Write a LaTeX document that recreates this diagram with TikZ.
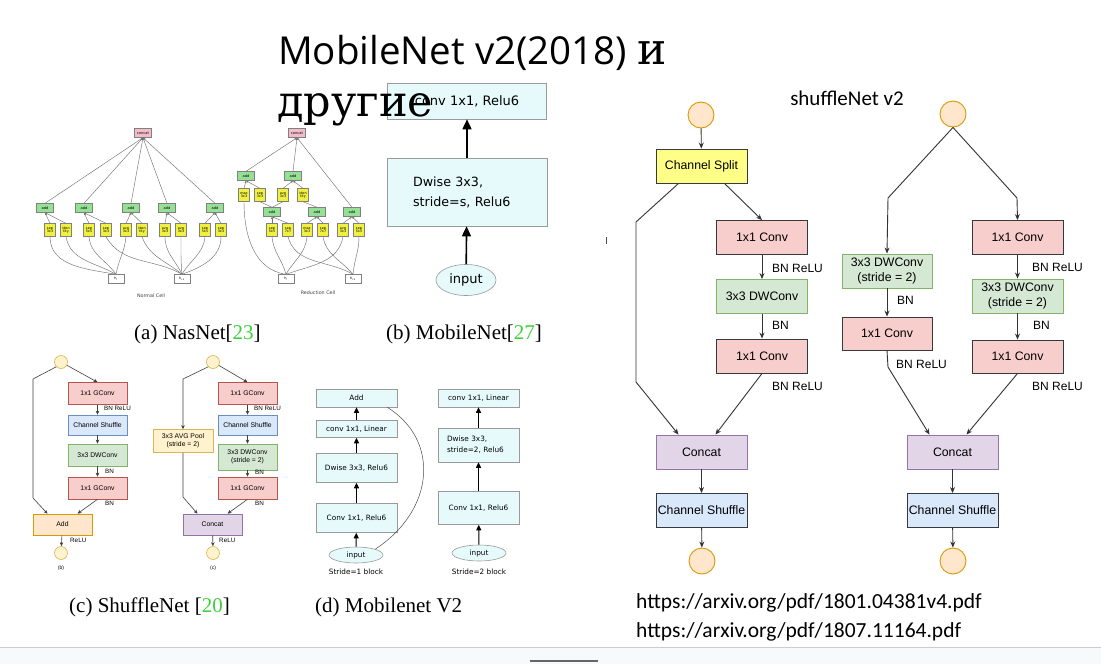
\documentclass[tikz,border=0pt]{standalone}
\usepackage{fontspec}
\setmainfont{Liberation Serif}
\setsansfont{Liberation Sans}
\newfontfamily\djsans{DejaVu Sans}
\newfontfamily\djserif{DejaVu Serif}
\newfontfamily\carl{Carlito}
\newfontfamily\osans{Open Sans}
\usetikzlibrary{arrows.meta,shapes.geometric,calc}
\pgfdeclarelayer{backdrop}
\pgfdeclarelayer{background}
\pgfsetlayers{backdrop,background,main}

\definecolor{nasyel}{HTML}{F0F040}
\definecolor{nasgrn}{HTML}{96E096}
\definecolor{naspnk}{HTML}{F2BCC8}
\definecolor{mbfill}{HTML}{E6FAFC}
\definecolor{mbdraw}{HTML}{9A9A9A}
\definecolor{redF}{HTML}{F8CECC}\definecolor{redD}{HTML}{B85450}
\definecolor{bluF}{HTML}{DAE8FC}\definecolor{bluD}{HTML}{6C8EBF}
\definecolor{grnF}{HTML}{D5E8D4}\definecolor{grnD}{HTML}{82B366}
\definecolor{orgF}{HTML}{FFE6CC}\definecolor{orgD}{HTML}{D79B00}
\definecolor{purF}{HTML}{E1D5E7}\definecolor{purD}{HTML}{9673A6}
\definecolor{ylwF}{HTML}{FFF2CC}\definecolor{ylwD}{HTML}{D6B656}
\definecolor{splF}{HTML}{FFFF88}
\definecolor{darkD}{HTML}{36393D}
\definecolor{refgrn}{HTML}{3CD23C}
\definecolor{barF}{HTML}{F8F9FB}
\definecolor{barL}{HTML}{CBCDD0}

\tikzset{
  nasop/.style={draw=black!50, fill=nasyel, minimum width=11pt, minimum height=13pt, inner sep=0pt, align=center, font=\djsans\fontsize{3.4}{3.8}\selectfont},
  nasadd/.style={draw=black!50, fill=nasgrn, minimum width=17pt, minimum height=9pt, inner sep=0pt, font=\djsans\fontsize{3.6}{4}\selectfont},
  nascat/.style={nasadd, fill=naspnk},
  nash/.style={draw=black!50, fill=white, minimum width=16pt, minimum height=9pt, inner sep=0pt, font=\djsans\fontsize{3.4}{4}\selectfont},
  nasln/.style={draw=black!55, line width=0.45pt},
  nasin/.style={nasln, -{Latex[length=2.2pt,width=2.2pt]}},
  naslab/.style={font=\djsans\fontsize{4.8}{5}\selectfont, text=black!75},
  mbbox/.style={draw=mbdraw, fill=mbfill, line width=0.6pt, inner sep=0pt},
  mbarrow/.style={line width=1.6pt, -{Triangle[length=10pt,width=9pt]}},
  mbtwo/.style={line width=1pt, -{Triangle[length=5.5pt,width=5pt]}},
  mbtxt/.style={font=\djsans\fontsize{7.3}{10}\selectfont},
  scbox/.style={draw=#1D, fill=#1F, line width=0.6pt, minimum width=59pt, inner sep=0pt, align=center, font=\sffamily\fontsize{6.8}{8}\selectfont},
  scdot/.style={circle, draw=ylwD, fill=ylwF, line width=0.6pt, minimum size=13pt, inner sep=0pt},
  scarr/.style={draw=black!75, line width=0.6pt, -{Stealth[length=4pt,width=3.5pt,inset=1.2pt]}},
  sclab/.style={anchor=west, inner sep=0pt, font=\sffamily\fontsize{6.3}{7}\selectfont},
  vbox/.style={draw=#1, line width=0.9pt, minimum width=91pt, minimum height=34pt, inner sep=0pt, align=center, font=\sffamily\fontsize{12.3}{14.5}\selectfont},
  vdot/.style={circle, draw=orgD, fill=orgF, line width=0.9pt, minimum size=26pt, inner sep=0pt},
  varr/.style={draw=black!80, line width=0.9pt, -{Stealth[length=6pt,width=5pt,inset=2pt]}},
  vlab/.style={anchor=west, inner sep=0pt, font=\sffamily\fontsize{12}{14}\selectfont},
  capt/.style={anchor=base west, inner sep=0pt, font=\fontsize{21}{24}\selectfont},
}

\begin{document}
\begin{tikzpicture}[x=1pt,y=-1pt]
\begin{pgfonlayer}{backdrop}
  \path[use as bounding box, fill=white] (0,0) rectangle (1101,664);
  \fill[barF] (0,647) rectangle (1101,664);
  \draw[barL, line width=1pt] (0,647) -- (1101,647);
  \draw[black!60, line width=2pt] (530,661) -- (598,661);
\end{pgfonlayer}

% ---------------- NASNet: normal cell ----------------
\node[nascat] (cN) at (143,133) {concat};
\foreach \nm/\x in {aN1/45,aN2/84,aN3/131,aN4/167,aN5/215}
  \node[nasadd] (\nm) at (\x,208) {add};
\foreach \nm/\x/\t in {oN1/50/{sep\\3x3},oN2/66/{iden\\tity},oN3/89/{sep\\5x5},oN4/106/{sep\\3x3},oN5/126/{avg\\3x3},oN6/142/{iden\\tity},oN7/165/{avg\\3x3},oN8/181/{avg\\3x3},oN9/205/{sep\\5x5},oN10/221/{sep\\3x3}}
  \node[nasop] (\nm) at (\x,230) {\t};
\node[nash] (hN0) at (116,279) {h\textsubscript{i}};
\node[nash] (hN1) at (182,279) {h\textsubscript{i-1}};
\node[naslab] (lN) at (151,296) {Normal Cell};

% ---------------- NASNet: reduction cell ----------------
\node[nascat] (cR) at (297,133) {concat};
\node[nasadd] (aR1) at (246,176) {add};
\node[nasadd] (aR2) at (293,176) {add};
\node[nasadd] (aR3) at (272,212) {add};
\node[nasadd] (aR4) at (317,212) {add};
\node[nasadd] (aR5) at (352,212) {add};
\foreach \nm/\x/\t in {oR1/244/{max\\3x3},oR2/260/{sep\\3x3},oR3/283/{avg\\3x3},oR4/303/{iden\\tity}}
  \node[nasop] (\nm) at (\x,195) {\t};
\foreach \nm/\x/\t in {oR5/272/{sep\\5x5},oR6/288/{sep\\7x7},oR7/307/{max\\3x3},oR8/323/{sep\\7x7},oR9/343/{avg\\3x3},oR10/359/{sep\\5x5}}
  \node[nasop] (\nm) at (\x,230) {\t};
\node[nash] (hR0) at (286,279) {h\textsubscript{i}};
\node[nash] (hR1) at (353,279) {h\textsubscript{i-1}};
\node[naslab] (lR) at (318,293) {Reduction Cell};

\begin{pgfonlayer}{background}
  \foreach \nm in {aN1,aN2,aN3,aN4,aN5} \draw[nasin] (\nm.north) -- (cN.south);
  \foreach \o/\a in {oN1/aN1,oN2/aN1,oN3/aN2,oN4/aN2,oN5/aN3,oN6/aN3,oN7/aN4,oN8/aN4,oN9/aN5,oN10/aN5}
    \draw[nasin] (\o.north) -- (\a.south);
  \draw[nasln] (hN0.north) to[out=170,in=-90] (oN1.south);
  \draw[nasln] (hN0.north) to[out=150,in=-80] (oN2.south);
  \draw[nasln] (hN0.north) to[out=125,in=-85] (oN3.south);
  \draw[nasln] (hN1.north) to[out=150,in=-60] (oN4.south);
  \draw[nasln] (hN0.north) to[out=80,in=-95] (oN5.south);
  \draw[nasln] (hN1.north) to[out=140,in=-70] (oN6.south);
  \draw[nasln] (hN1.north) to[out=115,in=-90] (oN7.south);
  \draw[nasln] (hN1.north) to[out=95,in=-90] (oN8.south);
  \draw[nasln] (hN1.north) to[out=60,in=-95] (oN9.south);
  \draw[nasln] (hN1.north) to[out=20,in=-90] (oN10.south);

  \foreach \nm in {aR1,aR2,aR5} \draw[nasin] (\nm.north) -- (cR.south);
  \foreach \o/\a in {oR1/aR1,oR2/aR1,oR3/aR2,oR4/aR2,oR5/aR3,oR6/aR3,oR7/aR4,oR8/aR4,oR9/aR5,oR10/aR5}
    \draw[nasin] (\o.north) -- (\a.south);
  \draw[nasln] (aR3.north) -- (oR2.south);
  \draw[nasln] (aR3.north) -- (oR3.south);
  \draw[nasln] (aR4.north) -- (oR4.south);
  \draw[nasln] (hR0.north) to[out=172,in=-90] (oR1.south);
  \draw[nasln] (hR0.north) to[out=105,in=-85] (oR5.south);
  \draw[nasln] (hR1.north) to[out=150,in=-75] (oR6.south);
  \draw[nasln] (hR0.north) to[out=60,in=-95] (oR7.south);
  \draw[nasln] (hR1.north) to[out=130,in=-80] (oR8.south);
  \draw[nasln] (hR0.north) to[out=20,in=-100] (oR9.south);
  \draw[nasln] (hR1.north) to[out=85,in=-90] (oR10.south);
\end{pgfonlayer}

\node[capt] (capA) at (134,339) {(a) NasNet[\textcolor{refgrn}{23}]};

% ---------------- MobileNet ----------------
\node[mbbox, minimum width=159pt, minimum height=36pt, font=\djsans\fontsize{13}{15}\selectfont] (b1) at (467,101) {conv 1x1, Relu6};
\node[mbbox, text width=108pt, inner xsep=26pt, minimum height=68pt, align=left, font=\djsans\fontsize{12.7}{20}\selectfont] (b2) at (467,192) {Dwise 3x3,\\stride=s, Relu6};
\node[ellipse, draw=mbdraw, fill=mbfill, line width=0.6pt, minimum width=60pt, minimum height=31pt, inner sep=0pt, font=\djsans\fontsize{13}{15}\selectfont] (bin) at (466,280) {input};
\draw[mbarrow] (bin) -- (b2);
\draw[mbarrow] (b2) -- (b1);
\node[capt] (capB) at (386,339) {(b) MobileNet[\textcolor{refgrn}{27}]};

% ---------------- ShuffleNet units ----------------
\node[scdot] (cb0) at (61,362) {};
\node[scbox=red, minimum height=22pt] (cb1) at (97.5,393.5) {1x1 GConv};
\node[scbox=blu, minimum height=20pt] (cb2) at (97.5,425) {Channel Shuffle};
\node[scbox=grn, minimum height=22pt] (cb3) at (97.5,455) {3x3 DWConv};
\node[scbox=red, minimum height=22pt] (cb4) at (97.5,488) {1x1 GConv};
\node[scbox=org, minimum height=21pt] (cb5) at (62.5,524.5) {Add};
\node[scdot] (cb6) at (61,553) {};
\node[font=\sffamily\fontsize{5}{6}\selectfont] (cbl) at (61,568) {(b)};
\draw[scarr] (cb0) -- (cb1.north);
\draw[scarr] (cb1) -- (cb2);
\draw[scarr] (cb2) -- (cb3);
\draw[scarr] (cb3) -- (cb4);
\draw[scarr] (cb4.south) -- ([xshift=15pt]cb5.north);
\draw[scarr] (cb0.south west) -- (33,379) -- (33,498) -- ([xshift=-15pt]cb5.north);
\draw[scarr] (cb5) -- (cb6);
\node[sclab] at (104,408) {BN ReLU};
\node[sclab] at (105,471) {BN};
\node[sclab] at (105,503) {BN};
\node[sclab] at (70,540) {ReLU};

\node[scdot] (cc0) at (213,362) {};
\node[scbox=red, minimum height=22pt] (cc1) at (247.5,393.5) {1x1 GConv};
\node[scbox=blu, minimum height=20pt] (cc2) at (247.5,425) {Channel Shuffle};
\node[scbox=grn, minimum height=26pt] (cc3) at (247.5,457) {3x3 DWConv\\(stride = 2)};
\node[scbox=red, minimum height=22pt] (cc4) at (247.5,488) {1x1 GConv};
\node[scbox=ylw, minimum width=60pt, minimum height=23pt] (cc5) at (183,441) {3x3 AVG Pool\\(stride = 2)};
\node[scbox=pur, minimum height=21pt] (cc6) at (212.5,524.5) {Concat};
\node[scdot] (cc7) at (213,553) {};
\node[font=\sffamily\fontsize{5}{6}\selectfont] (ccl) at (213,568) {(c)};
\draw[scarr] (cc0) -- (cc1.north);
\draw[scarr] (cc0.south west) -- (183,379) -- (cc5.north);
\draw[scarr] (cc1) -- (cc2);
\draw[scarr] (cc2) -- (cc3);
\draw[scarr] (cc3) -- (cc4);
\draw[scarr] (cc4.south) -- ([xshift=15pt]cc6.north);
\draw[scarr] (cc5.south) -- (183,497) -- ([xshift=-15pt]cc6.north);
\draw[scarr] (cc6) -- (cc7);
\node[sclab] at (254,408) {BN ReLU};
\node[sclab] at (255,472) {BN};
\node[sclab] at (255,503) {BN};
\node[sclab] at (219,540) {ReLU};

\node[capt] (capC) at (69,612) {(c) ShuffleNet [\textcolor{refgrn}{20}]};

% ---------------- MobileNet V2 blocks ----------------
\node[mbbox, mbtxt, minimum width=81pt, minimum height=18pt] (d1add) at (356.5,398) {Add};
\node[mbbox, mbtxt, minimum width=81pt, minimum height=17pt] (d1lin) at (356.5,429) {conv 1x1, Linear};
\node[mbbox, mbtxt, minimum width=81pt, minimum height=29pt] (d1dw) at (356.5,468) {Dwise 3x3, Relu6};
\node[mbbox, mbtxt, minimum width=81pt, minimum height=29pt] (d1cv) at (356.5,518) {Conv 1x1, Relu6};
\node[ellipse, draw=mbdraw, fill=mbfill, line width=0.6pt, minimum width=54pt, minimum height=16pt, inner sep=0pt, mbtxt] (d1in) at (356,555) {input};
\node[mbtxt] (d1cap) at (356,572) {Stride=1 block};
\draw[mbtwo] (d1in) -- (d1cv);
\draw[mbtwo] (d1cv) -- (d1dw);
\draw[mbtwo] (d1dw) -- (d1lin);
\draw[mbtwo] (d1lin) -- (d1add);
\draw[black!70, line width=0.5pt] (d1in.north east) .. controls (435,510) and (440,440) .. ([xshift=-10pt]d1add.south east);

\node[mbbox, mbtxt, minimum width=81pt, minimum height=18pt] (d2lin) at (478.5,398) {conv 1x1, Linear};
\node[mbbox, text width=63pt, inner xsep=9pt, minimum height=34pt, align=left, font=\djsans\fontsize{7.3}{11}\selectfont] (d2dw) at (478.5,445) {Dwise 3x3,\\stride=2, Relu6};
\node[mbbox, mbtxt, minimum width=81pt, minimum height=33pt] (d2cv) at (478.5,508) {Conv 1x1, Relu6};
\node[ellipse, draw=mbdraw, fill=mbfill, line width=0.6pt, minimum width=54pt, minimum height=16pt, inner sep=0pt, mbtxt] (d2in) at (479,553) {input};
\node[mbtxt] (d2cap) at (479,572) {Stride=2 block};
\draw[mbtwo] (d2in) -- (d2cv);
\draw[mbtwo] (d2cv) -- (d2dw);
\draw[mbtwo] (d2dw) -- (d2lin);

\node[capt] (capD) at (315,612) {(d) Mobilenet V2};

% ---------------- ShuffleNet v2 units ----------------
\node[anchor=base, inner sep=0pt, font=\carl\fontsize{21}{24}\selectfont] (v2t) at (847,105) {shuffleNet v2};

\node[vdot] (va0) at (701,115) {};
\node[vbox=darkD, fill=splF] (va1) at (701.5,166) {Channel Split};
\node[vbox=darkD, fill=redF] (va2) at (762,237.5) {1x1 Conv};
\node[vbox=grnD, fill=grnF] (va3) at (762,296.5) {3x3 DWConv};
\node[vbox=darkD, fill=redF] (va4) at (762,356) {1x1 Conv};
\node[vbox=purD, fill=purF] (va5) at (701.5,452) {Concat};
\node[vbox=darkD, fill=bluF] (va6) at (701.5,510.5) {Channel Shuffle};
\node[vdot] (va7) at (702,561) {};
\draw[varr] (va0) -- (va1);
\draw[varr] ([xshift=23pt]va1.south) -- (va2.north);
\draw[varr] (va2) -- (va3);
\draw[varr] (va3) -- (va4);
\draw[varr] ([xshift=-23pt]va1.south) -- (636,222) -- (636,382) -- ([xshift=-23pt]va5.north);
\draw[varr] (va4.south) -- ([xshift=14pt]va5.north);
\draw[varr] (va5) -- (va6);
\draw[varr] (va6) -- (va7);
\node[vlab] at (772,268) {BN ReLU};
\node[vlab] at (772,325) {BN};
\node[vlab] at (772,386) {BN ReLU};

\node[vdot] (vb0) at (953,114) {};
\node[vbox=grnD, fill=grnF, minimum width=90pt] (vb1) at (887,271) {3x3 DWConv\\(stride = 2)};
\node[vbox=darkD, fill=redF, minimum width=90pt, minimum height=33pt] (vb2) at (887,333.5) {1x1 Conv};
\node[vbox=darkD, fill=redF] (vb3) at (1017.5,237.5) {1x1 Conv};
\node[vbox=grnD, fill=grnF] (vb4) at (1017.5,296) {3x3 DWConv\\(stride = 2)};
\node[vbox=darkD, fill=redF, minimum height=33pt] (vb5) at (1017.5,356.5) {1x1 Conv};
\node[vbox=purD, fill=purF] (vb6) at (952.5,452) {Concat};
\node[vbox=darkD, fill=bluF] (vb7) at (952.5,510.5) {Channel Shuffle};
\node[vdot] (vb8) at (953,561) {};
\draw[varr] (vb0.south) -- (888,198) -- (vb1.north);
\draw[varr] (vb0.south) -- (1017,198) -- (vb3.north);
\draw[varr] (vb1) -- (vb2);
\draw[varr] (vb2.south) -- (888,367) -- ([xshift=-23pt]vb6.north);
\draw[varr] (vb3) -- (vb4);
\draw[varr] (vb4) -- (vb5);
\draw[varr] (vb5.south) -- ([xshift=14pt]vb6.north);
\draw[varr] (vb6) -- (vb7);
\draw[varr] (vb7) -- (vb8);
\node[vlab] at (897,300) {BN};
\node[vlab] at (896,364) {BN ReLU};
\node[vlab] at (1032,267) {BN ReLU};
\node[vlab] at (1033,325) {BN};
\node[vlab] at (1032,386) {BN ReLU};

\draw[black!70, line width=0.9pt] (606,237) -- (606,244);

% ---------------- links ----------------
\node[anchor=base west, inner sep=0pt, font=\carl\fontsize{21.5}{24}\selectfont] (u1) at (636,608) {https://arxiv.org/pdf/1801.04381v4.pdf};
\node[anchor=base west, inner sep=0pt, font=\carl\fontsize{21.5}{24}\selectfont] (u2) at (636,637) {https://arxiv.org/pdf/1807.11164.pdf};

% ---------------- title ----------------
\node[anchor=base west, inner sep=0pt, font=\osans\fontsize{38.5}{44}\selectfont] (ttl1) at (278,64) {MobileNet v2(2018) {\djserif\fontsize{44}{48}\selectfont и}};
\node[anchor=base west, inner sep=0pt, font=\djserif\fontsize{43}{48}\selectfont] (ttl2) at (277,116) {другие};
\end{tikzpicture}
\end{document}
